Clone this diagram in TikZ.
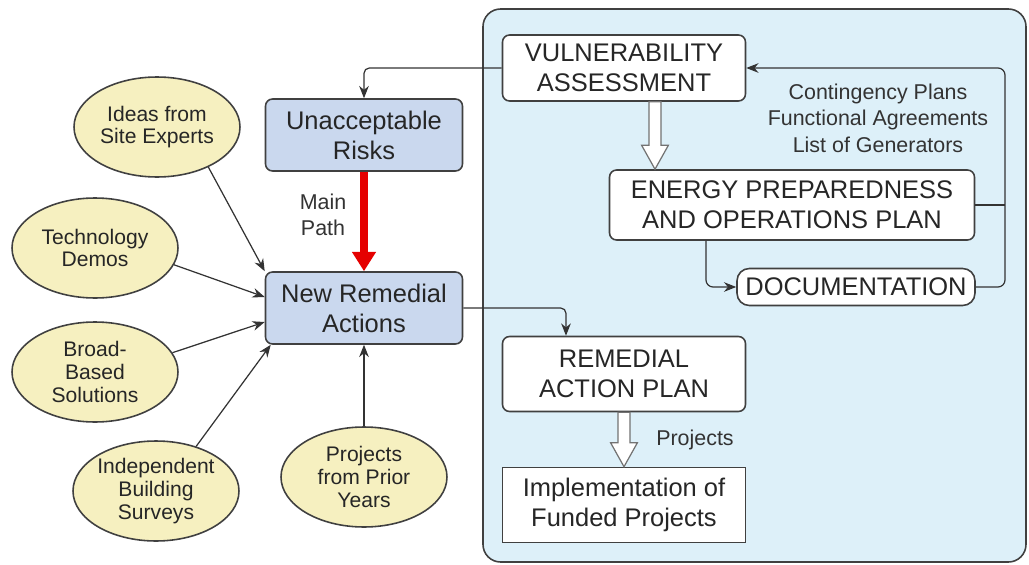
\documentclass[tikz,border=0pt]{standalone}
\usepackage{fontspec}
\setmainfont{Liberation Sans}
\usetikzlibrary{arrows.meta,shapes.geometric,calc}

\definecolor{panelblue}{RGB}{221,240,249}
\definecolor{boxblue}{RGB}{202,216,238}
\definecolor{ideafill}{RGB}{246,240,192}
\definecolor{edgegray}{RGB}{64,64,64}

\tikzset{
  boxfont/.style={font=\fontsize{14.5}{17}\selectfont},
  bluebox/.style={draw=edgegray,fill=boxblue,rounded corners=4pt,line width=0.9pt,
    align=center,boxfont,text=black!85,minimum width=3.94cm,minimum height=1.44cm,inner sep=2pt},
  planbox/.style={draw=edgegray,fill=white,rounded corners=4pt,line width=0.9pt,
    align=center,boxfont,text=black!85,minimum width=4.86cm,inner sep=2pt},
  source/.style={ellipse,draw=edgegray,fill=ideafill,line width=0.9pt,align=center,
    font=\fontsize{12}{13}\selectfont,text=black!85,minimum width=3.32cm,minimum height=2cm,inner sep=0pt},
  arr/.style={-{Stealth[length=7pt,width=5.5pt]},draw=black!80,line width=0.7pt},
  hollow/.style={draw=black!55,fill=white,line width=0.7pt},
  note/.style={align=center,font=\fontsize{12.2}{15}\selectfont,text=black!80}
}

% open block arrow pointing down
\newcommand{\hollowdown}[2]{%
  \draw[hollow] let \p1=(#1), \p2=(#2) in
    (\x1-3.4pt,\y1) -- (\x1-3.4pt,\y2+13.6pt) -- (\x1-7.6pt,\y2+13.6pt) -- (\x1,\y2)
    -- (\x1+7.6pt,\y2+13.6pt) -- (\x1+3.4pt,\y2+13.6pt) -- (\x1+3.4pt,\y1) -- cycle;}

\begin{document}
\begin{tikzpicture}[x=0.02cm,y=-0.02cm]
  \useasboundingbox (0,0) rectangle (1029,565);
  \fill[white] (0,0) rectangle (1029,565);
  % right panel
  \draw[edgegray,line width=0.9pt,fill=panelblue,rounded corners=10pt] (483,9) rectangle (1026,562);

  % left side
  \node[bluebox] (ur) at (364,135) {Unacceptable\\Risks};
  \node[bluebox] (nra) at (364,308) {New Remedial\\Actions};
  \node[source] (ideas) at (157,127) {Ideas from\\Site Experts};
  \node[source] (tech) at (95,248) {Technology\\Demos};
  \node[source] (broad) at (95,372) {Broad-\\Based\\Solutions};
  \node[source] (indep) at (156,491) {Independent\\Building\\Surveys};
  \node[source] (prior) at (364,477) {Projects\\from Prior\\Years};
  \node[note] (mainpath) at (323,215) {Main\\Path};

  % right side
  \node[planbox,minimum height=1.32cm] (va) at (624,68) {VULNERABILITY\\ASSESSMENT};
  \node[planbox,minimum width=7.3cm,minimum height=1.4cm] (ep) at (792,205) {ENERGY PREPAREDNESS\\AND OPERATIONS PLAN};
  \node[planbox,rounded corners=7pt,minimum width=4.76cm,minimum height=0.74cm] (doc) at (856,287) {DOCUMENTATION};
  \node[planbox,minimum height=1.5cm] (rap) at (624,374) {REMEDIAL\\ACTION PLAN};
  \node[planbox,rounded corners=0pt,minimum height=1.5cm] (ifp) at (624,505) {Implementation of\\Funded Projects};
  \node[note] (outputs) at (878,118) {Contingency Plans\\Functional Agreements\\List of Generators};
  \node[note] (projlabel) at (695,440) {Projects};

  \coordinate (loop) at (1005,68);
  \coordinate (epout) at ($(ep.south)+(-86,0)$);
  \coordinate (rapin) at ($(rap.north)+(-58,0)$);
  \coordinate (vaout) at ($(va.south)+(31,0)$);

  % connectors
  \draw[arr,rounded corners=3pt] (va.west) -| (ur.north);
  \draw[-{Triangle[length=11pt,width=13pt]},red!90!black,line width=4.5pt] (ur.south) -- (nra.north);
  \draw[arr] (ideas.-38) -- (nra.north west);
  \draw[arr] (tech.-12) -- ($(nra.west)+(0,-11)$);
  \draw[arr] (broad.14) -- ($(nra.west)+(0,14)$);
  \draw[arr] (indep.48) -- ($(nra.south west)+(6,0)$);
  \draw[arr] (prior.north) -- (nra.south);
  \draw[arr,rounded corners=3pt] (nra.east) -| (rapin);
  \draw[arr,rounded corners=4pt] (doc.east) -| (loop) -- (va.east);
  \draw[line width=0.7pt,black!80] (ep.east) -- (ep.east -| loop);
  \draw[arr,rounded corners=4pt] (epout) |- (doc.west);
  \hollowdown{vaout}{vaout |- ep.north}
  \hollowdown{rap.south}{ifp.north}
\end{tikzpicture}
\end{document}
